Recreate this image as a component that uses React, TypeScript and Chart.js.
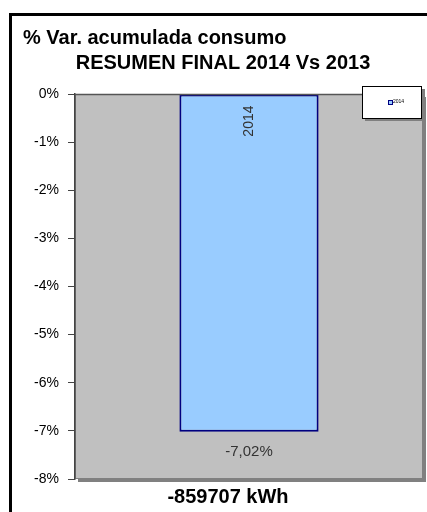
import React, { useEffect, useRef } from "react";
import { Chart, registerables } from "chart.js";

Chart.register(...registerables);

const categories = ["2014"];
const seriesName = "2014";
const values = [-7.02];
const valueLabels = ["-7,02%"];
const yTicks = [0, -1, -2, -3, -4, -5, -6, -7, -8];
const titleLine1 = "% Var. acumulada consumo";
const titleLine2 = "RESUMEN FINAL 2014 Vs 2013";
const xTitle = "-859707 kWh";

const FONT = "'Liberation Sans', Arial, sans-serif";

const decorPlugin = {
  id: "decor",
  beforeDraw(chart: any) {
    const { ctx, chartArea: a } = chart;
    ctx.save();
    ctx.fillStyle = "#ffffff";
    ctx.fillRect(0, 0, chart.width, chart.height);
    // outer frame
    ctx.strokeStyle = "#000000";
    ctx.lineWidth = 3;
    ctx.strokeRect(10.5, 14.5, 430, 520);
    // plot shadow
    ctx.fillStyle = "#808080";
    ctx.fillRect(a.left + 3, a.top + 3, a.right - a.left, a.bottom - a.top);
    // plot background
    ctx.fillStyle = "#C0C0C0";
    ctx.fillRect(a.left, a.top, a.right - a.left, a.bottom - a.top);
    ctx.strokeStyle = "#808080";
    ctx.lineWidth = 1;
    ctx.strokeRect(a.left + 0.5, a.top + 0.5, a.right - a.left - 1, a.bottom - a.top - 1);
    // titles
    ctx.fillStyle = "#000000";
    ctx.font = `bold 20px ${FONT}`;
    ctx.textBaseline = "middle";
    ctx.textAlign = "left";
    ctx.fillText(titleLine1, 23, 38);
    ctx.textAlign = "center";
    ctx.fillText(titleLine2, 223, 63);
    ctx.fillText(xTitle, 228, 497);
    ctx.restore();
  },
  afterDatasetsDraw(chart: any) {
    const { ctx, chartArea: a } = chart;
    const y = chart.scales.y;
    const meta = chart.getDatasetMeta(0);
    ctx.save();
    // category axis line at 0
    const y0 = Math.round(y.getPixelForValue(0)) + 0.5;
    ctx.strokeStyle = "#555555";
    ctx.lineWidth = 1.5;
    ctx.beginPath();
    ctx.moveTo(a.left, y0);
    ctx.lineTo(a.right, y0);
    ctx.stroke();
    meta.data.forEach((bar: any, i: number) => {
      ctx.fillStyle = "#333333";
      ctx.font = `15px ${FONT}`;
      ctx.textAlign = "center";
      ctx.textBaseline = "middle";
      ctx.fillText(valueLabels[i], bar.x, bar.y + 20);
      ctx.save();
      ctx.translate(bar.x, bar.base + 11);
      ctx.rotate(-Math.PI / 2);
      ctx.font = `14px ${FONT}`;
      ctx.textAlign = "right";
      ctx.fillText(categories[i], 0, 0);
      ctx.restore();
    });
    // legend
    ctx.fillStyle = "#808080";
    ctx.fillRect(365, 89, 60, 32);
    ctx.fillStyle = "#ffffff";
    ctx.fillRect(362, 86, 60, 32);
    ctx.strokeStyle = "#000000";
    ctx.lineWidth = 1;
    ctx.strokeRect(362.5, 86.5, 59, 32);
    ctx.fillStyle = "#000080";
    ctx.fillRect(388, 100, 5, 5);
    ctx.fillStyle = "#99CCFF";
    ctx.fillRect(389, 101, 3, 3);
    ctx.fillStyle = "#000000";
    ctx.font = `5px ${FONT}`;
    ctx.textAlign = "left";
    ctx.textBaseline = "middle";
    ctx.fillText(seriesName, 393, 102);
    ctx.restore();
  },
};

export default function App() {
  const ref = useRef<HTMLCanvasElement>(null);
  useEffect(() => {
    if (!ref.current) return;
    const chart = new Chart(ref.current, {
      type: "bar",
      data: {
        labels: categories,
        datasets: [
          {
            label: seriesName,
            data: values,
            backgroundColor: "#99CCFF",
            borderColor: "#000080",
            borderWidth: 2,
            borderSkipped: false,
            categoryPercentage: 1,
            barPercentage: 0.4,
          },
        ],
      },
      options: {
        responsive: false,
        animation: false,
        layout: { padding: { left: 0, top: 94, right: 4, bottom: 33 } },
        plugins: {
          legend: { display: false },
          title: { display: false },
          tooltip: { enabled: false },
        },
        scales: {
          x: { display: false },
          y: {
            min: Math.min(...yTicks),
            max: Math.max(...yTicks),
            afterFit: (s: any) => {
              s.width = 75;
            },
            afterBuildTicks: (s: any) => {
              s.ticks = yTicks.map((v) => ({ value: v }));
            },
            ticks: {
              padding: 9,
              color: "#000000",
              font: { family: FONT, size: 14 },
              callback: (v: any) => `${v}%`,
            },
            grid: {
              drawOnChartArea: false,
              drawTicks: true,
              tickLength: 7,
              color: "#444444",
            },
            border: { display: true, color: "#444444", width: 1.5 },
          },
        },
      },
      plugins: [decorPlugin],
    });
    return () => chart.destroy();
  }, []);
  return (
    <div style={{ position: "fixed", left: 0, top: 0, width: 427, height: 512 }}>
      <canvas ref={ref} width={427} height={512} />
    </div>
  );
}
